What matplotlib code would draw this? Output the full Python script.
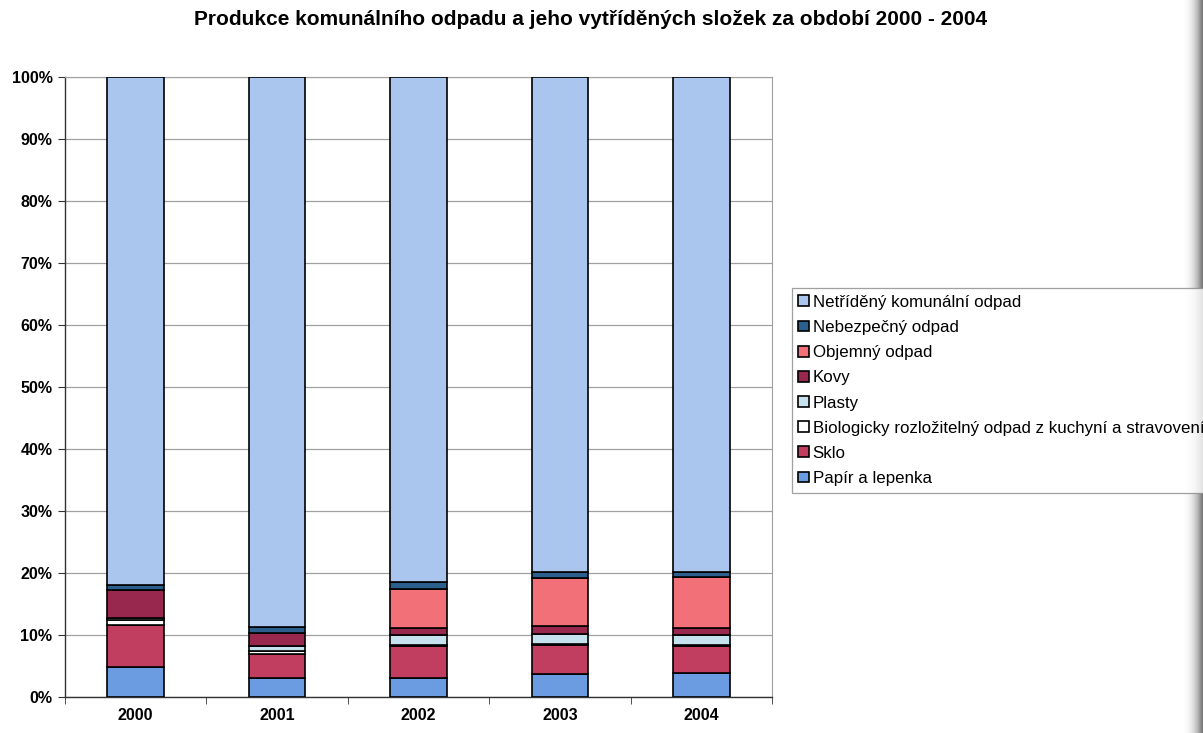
import matplotlib
matplotlib.use("Agg")
import matplotlib.pyplot as plt
import numpy as np
from matplotlib.patches import Patch

plt.rcParams['font.family'] = ['Liberation Sans', 'DejaVu Sans']

years = ["2000", "2001", "2002", "2003", "2004"]
papir = [4.9, 3.1, 3.0, 3.8, 3.9]
sklo = [6.8, 3.9, 5.3, 4.6, 4.3]
bio = [0.8, 0.4, 0.1, 0.1, 0.2]
plasty = [0.2, 0.8, 1.6, 1.6, 1.6]
kovy = [4.5, 2.1, 1.2, 1.3, 1.1]
objemny = [0.0, 0.0, 6.3, 7.8, 8.2]
nebezpecny = [0.9, 1.0, 1.0, 1.0, 0.9]

series = [
    ("Papír a lepenka", papir, "#6b9be0"),
    ("Sklo", sklo, "#c23e60"),
    ("Biologicky rozložitelný odpad z kuchyní a stravovení", bio, "#ffffff"),
    ("Plasty", plasty, "#c6e2ee"),
    ("Kovy", kovy, "#98284e"),
    ("Objemný odpad", objemny, "#f27078"),
    ("Nebezpečný odpad", nebezpecny, "#2b5f8e"),
]
sorted_total = np.sum([s[1] for s in series], axis=0)
netrideny = list(100 - sorted_total)
series.append(("Netříděný komunální odpad", netrideny, "#aac5ee"))

fig = plt.figure(figsize=(12.03, 7.33), dpi=100)
ax = fig.add_axes([0.054, 0.049, 0.588, 0.846])

x = np.arange(len(years))
bottom = np.zeros(len(years))
handles = []
for name, vals, col in series:
    ax.bar(x, vals, width=0.4, bottom=bottom, color=col, edgecolor="black",
           linewidth=1.2, zorder=3)
    bottom += np.array(vals)
    handles.append(Patch(facecolor=col, edgecolor="black", linewidth=1.2, label=name))

ax.set_xlim(-0.5, len(years) - 0.5)
ax.set_ylim(0, 100)
ax.set_yticks(np.arange(0, 101, 10))
ax.set_yticklabels([f"{v}%" for v in range(0, 101, 10)], fontsize=11.5, fontweight="bold")
ax.set_xticks(x)
ax.set_xticklabels(years, fontsize=11.5, fontweight="bold")
ax.set_xticks(np.arange(-0.5, len(years), 1), minor=True)
ax.tick_params(axis="x", which="major", length=0, pad=8)
ax.tick_params(axis="x", which="minor", length=5, direction="out", color="#333333")
ax.tick_params(axis="y", length=5, direction="out", color="#333333", pad=4)
ax.grid(axis="y", color="#a0a0a0", linewidth=0.9, zorder=0)
for side in ["top", "right"]:
    ax.spines[side].set_color("#a0a0a0")
for side in ["left", "bottom"]:
    ax.spines[side].set_color("#333333")
    ax.spines[side].set_linewidth(1.0)

fig.text(0.491, 0.973, "Produkce komunálního odpadu a jeho vytříděných složek za období 2000 - 2004",
         ha="center", va="center", fontsize=15, fontweight="bold")

leg = fig.legend(handles=handles[::-1], loc="upper left",
                 bbox_to_anchor=(0.658, 0.607), fontsize=12.2, frameon=True,
                 fancybox=False, edgecolor="#888888", handlelength=0.6,
                 handleheight=0.6, handletextpad=0.25, labelspacing=0.6,
                 borderpad=0.4, borderaxespad=0)
leg.get_frame().set_linewidth(0.9)

# scanner shadow at the right edge
sh = fig.add_axes([1183 / 1203, 0, 20 / 1203, 1])
grad = np.linspace(0, 1, 64)[None, :] ** 1.5
sh.imshow(grad, aspect="auto", cmap="Greys", vmin=0, vmax=1.6, extent=(0, 1, 0, 1))
sh.axis("off")

fig.savefig("out.png", dpi=100)
